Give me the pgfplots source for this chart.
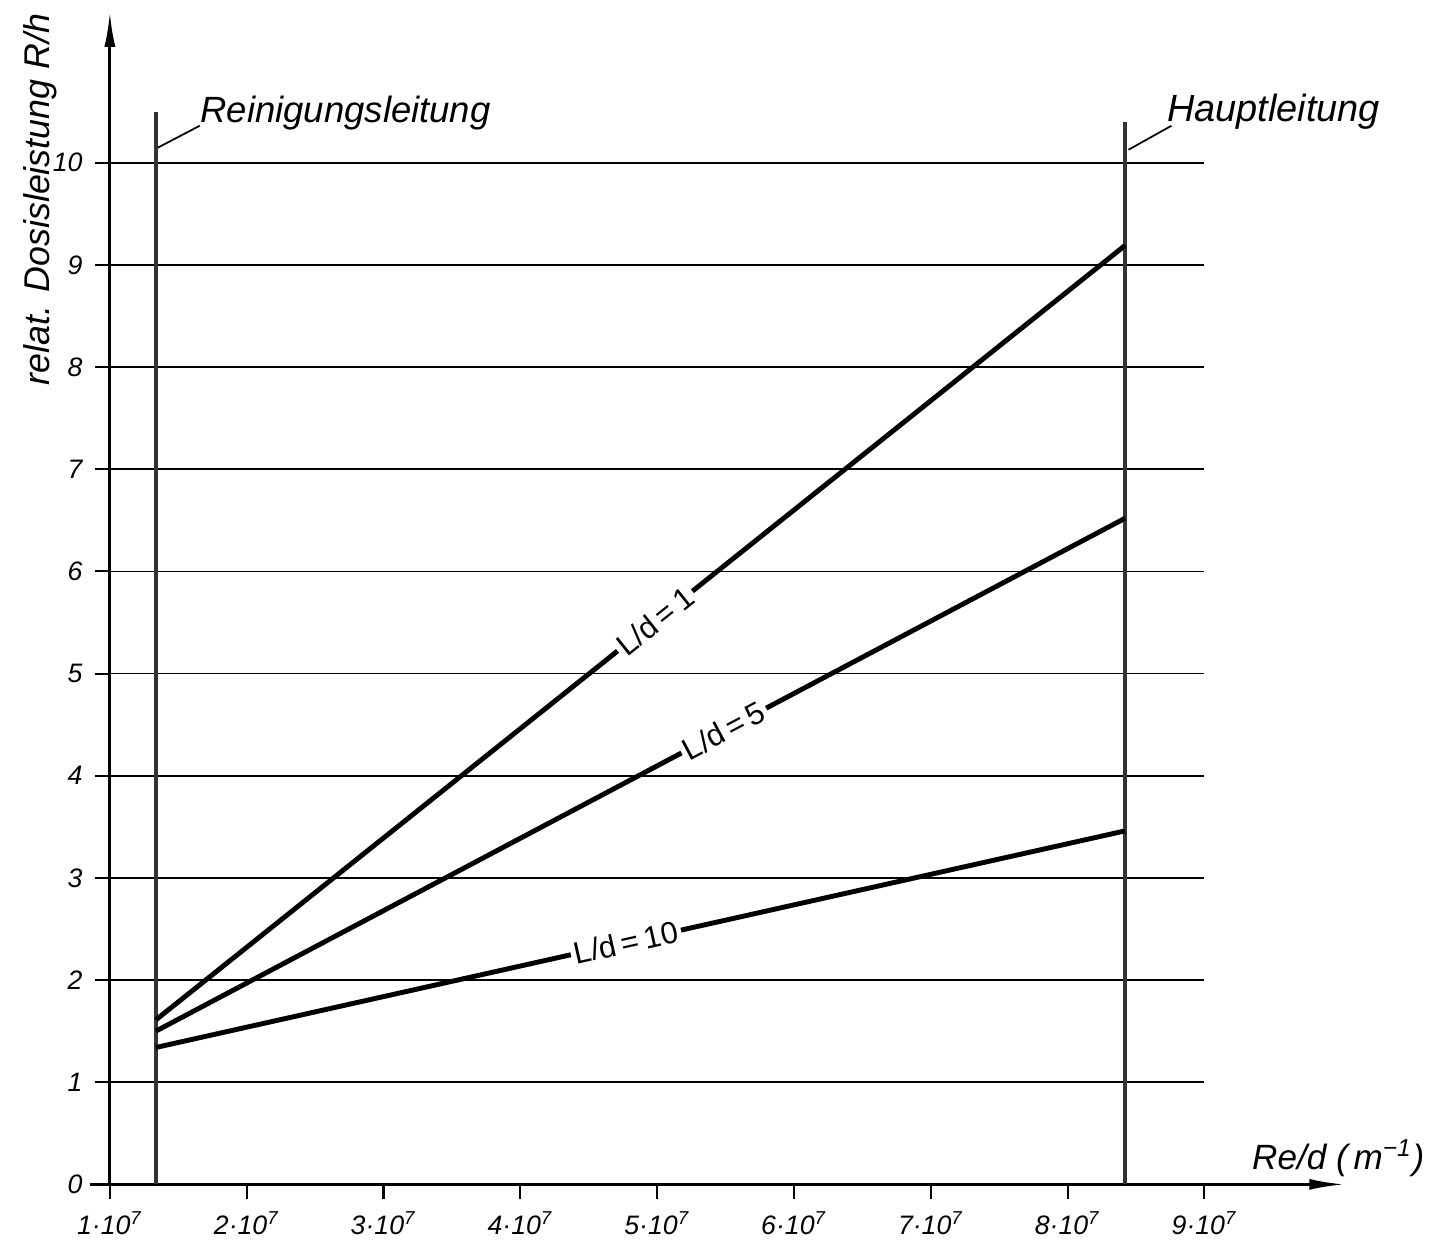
\documentclass[border=0pt]{standalone}
\usepackage{pgfplots}
\pgfplotsset{compat=1.18}
\usepackage{fontspec}
\setmainfont{Liberation Sans}
\usetikzlibrary{arrows.meta}
\begin{document}
\begin{tikzpicture}
\begin{axis}[
    x=13.7mm, y=10.23mm,
    xmin=1, xmax=9, ymin=0, ymax=10,
    axis x line=bottom, axis y line=left,
    axis line style={line width=0.8pt},
    x axis line style={-{Latex[length=3.5mm,width=1.1mm]}, shorten <=-2mm, shorten >=-14mm},
    y axis line style={-{Latex[length=3.5mm,width=1.1mm]}, shorten >=-15.1mm},
    tick align=outside,
    major tick length=1.5mm,
    tick style={line width=0.6pt, black},
    xtick={1,...,9},
    xticklabels={1·10\textsuperscript{7},2·10\textsuperscript{7},3·10\textsuperscript{7},4·10\textsuperscript{7},5·10\textsuperscript{7},6·10\textsuperscript{7},7·10\textsuperscript{7},8·10\textsuperscript{7},9·10\textsuperscript{7}},
    ytick={0,...,10},
    ymajorgrids=true,
    grid style={line width=0.45pt, black},
    ticklabel style={font=\itshape\fontsize{7.6}{8}\selectfont},
    /pgf/number format/assume math mode=true,
    clip=false,
]

% pipe positions
\addplot[line width=1.3pt, black!80] coordinates {(1.336,0) (1.336,10.50)};
\addplot[line width=1.3pt, black!80] coordinates {(8.42,0) (8.42,10.40)};

% L/d curves
\addplot[line width=1.4pt, black] coordinates {(1.336,1.61) (8.42,9.19)}
    node[pos=0.515, sloped, fill=white, inner sep=1pt, font=\fontsize{8.8}{9}\selectfont] {L/d\,=\,1};
\addplot[line width=1.4pt, black] coordinates {(1.336,1.50) (8.42,6.52)}
    node[pos=0.586, sloped, fill=white, inner sep=1pt, font=\fontsize{8.8}{9}\selectfont] {L/d\,=\,5};
\addplot[line width=1.4pt, black] coordinates {(1.336,1.34) (8.42,3.46)}
    node[pos=0.485, sloped, fill=white, inner sep=1pt, font=\fontsize{8.8}{9}\selectfont] {L/d\,=\,10};

% annotations
\draw[line width=0.5pt] (axis cs:1.350,10.147) -- (axis cs:1.657,10.362);
\node[anchor=base west, inner sep=0pt, font=\itshape\fontsize{10.4}{11}\selectfont] at (axis cs:1.657,10.39) {Reinigungsleitung};
\draw[line width=0.5pt] (axis cs:8.445,10.127) -- (axis cs:8.759,10.362);
\node[anchor=base west, inner sep=0pt, font=\itshape\fontsize{10.8}{11}\selectfont] at (axis cs:8.723,10.40) {Hauptleitung};

\node[font=\itshape\fontsize{10}{11}\selectfont] at (axis cs:9.978,0.254) {Re/d (\,m\textsuperscript{−1})};
\node[rotate=90, font=\itshape\fontsize{10.2}{11}\selectfont] at (axis cs:0.489,9.64) {relat. Dosisleistung R/h};

\path (axis cs:0.197,-0.528) rectangle (axis cs:10.679,11.593);
\end{axis}
\end{tikzpicture}
\end{document}
